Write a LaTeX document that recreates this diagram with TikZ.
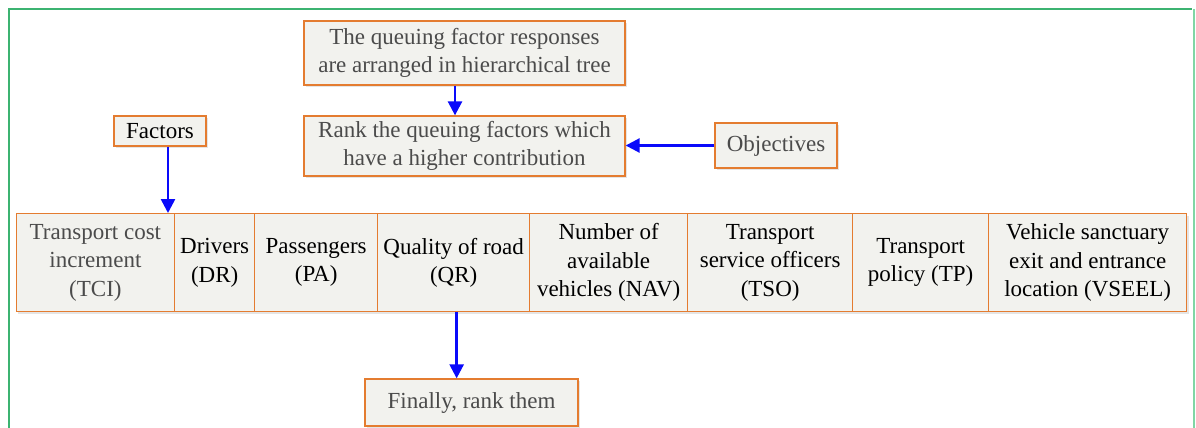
\documentclass[tikz,border=0pt]{standalone}
\usepackage{fontspec}
\setmainfont{LiberationSerif}[Extension=.ttf, UprightFont=*-Regular, BoldFont=*-Bold]
\usetikzlibrary{arrows.meta,shadows}

\definecolor{boxline}{RGB}{228,124,48}
\definecolor{boxfill}{RGB}{242,242,238}
\definecolor{txtgray}{RGB}{75,75,75}
\definecolor{frameline}{RGB}{60,179,113}
\definecolor{framelight}{RGB}{128,214,164}
\definecolor{flowblue}{RGB}{10,10,250}

\begin{document}
\begin{tikzpicture}[
		x=1pt, y=-1pt,
		font=\fontsize{23}{28.5}\selectfont,
		>={Triangle[width=14pt,length=14pt]},
		every node/.style={inner sep=0pt, align=center},
		box/.style={draw=boxline, fill=boxfill, line width=1.3pt,
			drop shadow={shadow xshift=2pt, shadow yshift=-2pt, fill=black!10, opacity=1}},
		cell/.style={box, anchor=north west, minimum height=98pt},
		flow/.style={->, draw=flowblue, line width=2.6pt},
		dim/.style={text=txtgray}
	]

		% Canvas and frame
		\fill[white] (0,0) rectangle (1196,428);
		\useasboundingbox (0,0) rectangle (1196,428);
		\draw[frameline, line width=1.2pt] (9,428) -- (9,9) -- (1192,9);
		\draw[framelight, line width=2.5pt] (1194,9) -- (1194,428);

		% Upper boxes
		\node[box, dim, minimum width=321pt, minimum height=64pt] (tree) at (464.5,53) {The queuing factor responses\\are arranged in hierarchical tree};
		\node[box, dim, minimum width=321pt, minimum height=60pt] (rank) at (464.5,146) {Rank the queuing factors which\\have a higher contribution};
		\node[box, minimum width=92pt, minimum height=30pt] (factors) at (160,131) {Factors};
		\node[box, dim, minimum width=122pt, minimum height=45pt] (obj) at (776,145.5) {Objectives};

		% Factor cells
		\node[cell, dim, minimum width=158.5pt] (tci) at (15.5,213) {Transport cost\\increment\\(TCI)};
		\node[cell, minimum width=80pt] (dr) at (174,213) {Drivers\\(DR)};
		\node[cell, minimum width=123pt] (pa) at (254,213) {Passengers\\(PA)};
		\node[cell, minimum width=152pt] (qr) at (377,213) {Quality of road\\(QR)};
		\node[cell, minimum width=158pt] (nav) at (529,213) {Number of\\available\\vehicles (NAV)};
		\node[cell, minimum width=165pt] (tso) at (687,213) {Transport\\service officers\\(TSO)};
		\node[cell, minimum width=136pt] (tp) at (852,213) {Transport\\policy (TP)};
		\node[cell, minimum width=198pt] (vseel) at (988,213) {Vehicle sanctuary\\exit and entrance\\location (VSEEL)};

		% Final box
		\node[box, dim, minimum width=213pt, minimum height=47pt] (final) at (471.5,402.5) {Finally, rank them};

		% Arrows
		\draw[flow] ([xshift=-9.5pt]tree.south) -- ([xshift=-9.5pt]tree.south |- rank.north);
		\draw[flow] (obj.west) -- (obj.west -| rank.east);
		\draw[flow] ([xshift=8pt]factors.south) -- ([xshift=8pt]factors.south |- tci.north);
		\draw[flow] ([xshift=3pt]qr.south) -- ([xshift=3pt]qr.south |- final.north);
	\end{tikzpicture}
\end{document}
